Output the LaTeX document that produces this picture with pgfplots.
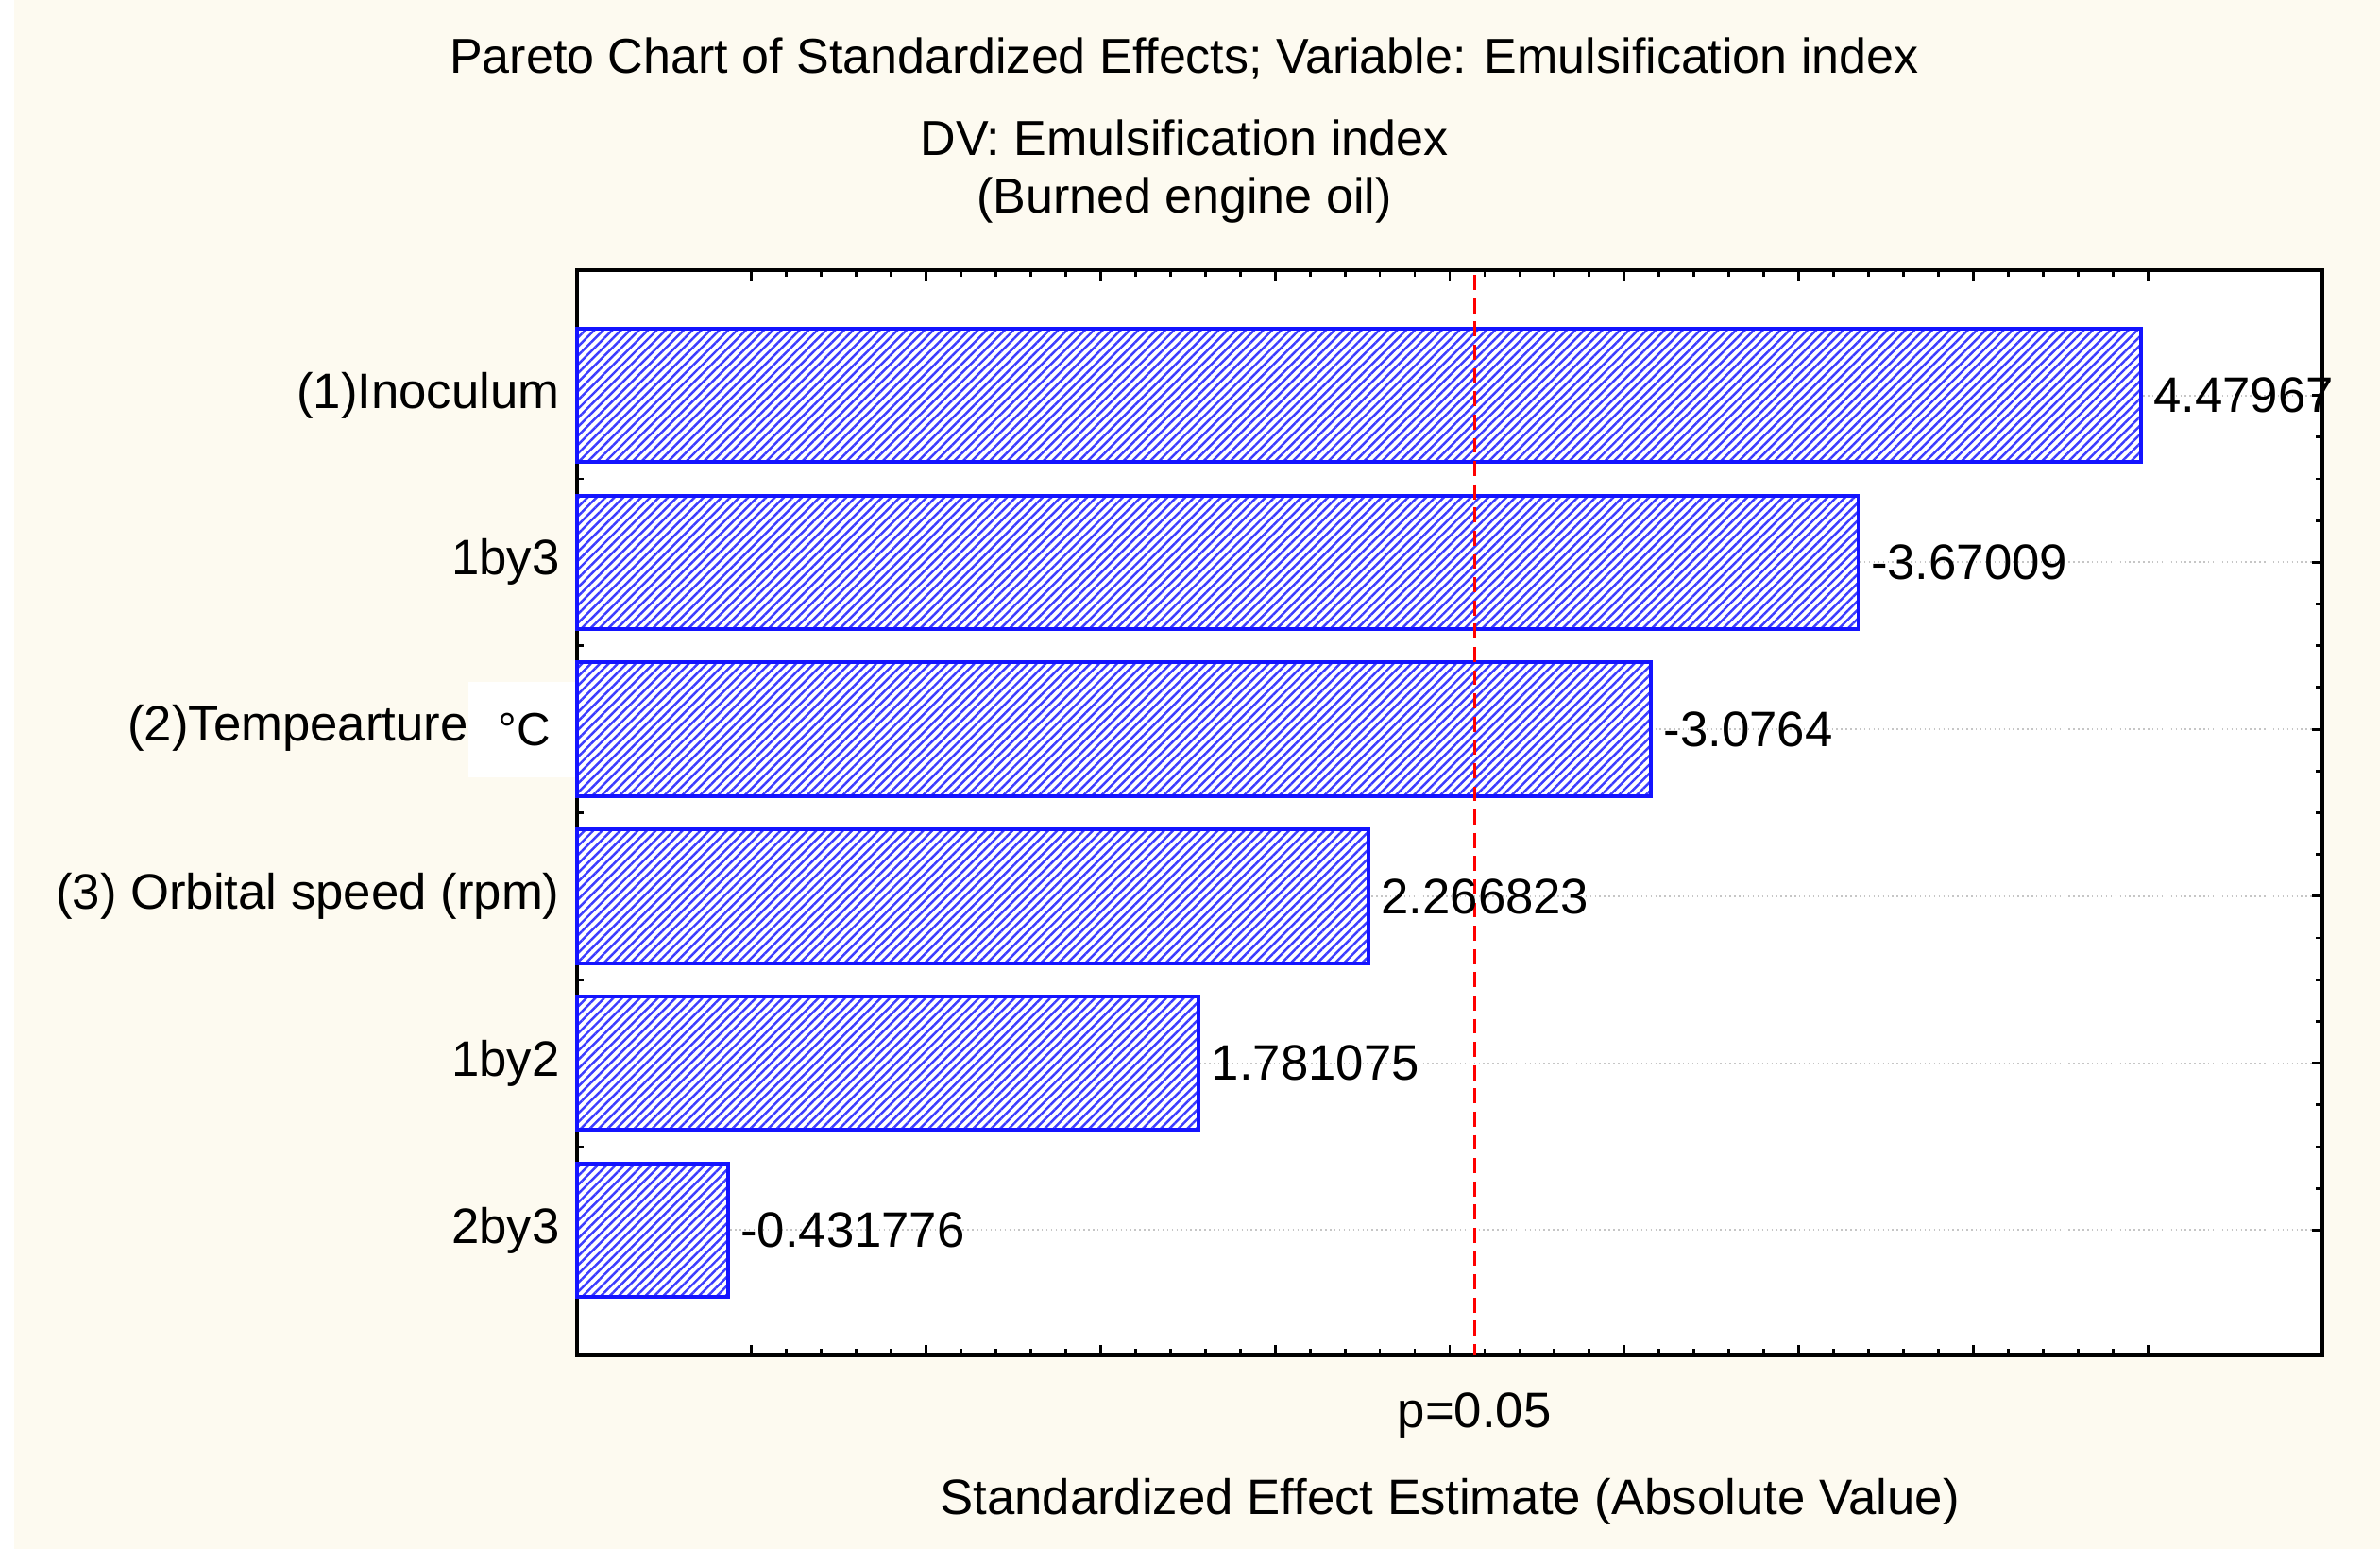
\documentclass[border=0pt]{standalone}
\usepackage{fontspec}
\setmainfont{Liberation Sans}
\usepackage{pgfplots}
\pgfplotsset{compat=1.18}
\usepackage{pgfplotstable}
\usetikzlibrary{patterns.meta,calc,backgrounds}
\definecolor{bg}{RGB}{253,250,240}
\definecolor{barblue}{RGB}{20,20,255}
\definecolor{hatch}{RGB}{60,60,255}
\pgfplotstableread{
x y label
4.47967 0 4.47967
3.67009 1 -3.67009
3.0764 2 -3.0764
2.266823 3 2.266823
1.781075 4 1.781075
0.431776 5 -0.431776
}\effects
\newcommand{\lbl}{\fontsize{15}{17}\selectfont}
\begin{document}
\begin{tikzpicture}
\begin{axis}[
  name=ax,
  scale only axis,
  width=18.48cm, height=11.49cm,
  xmin=0, xmax=5,
  ymin=-0.75, ymax=5.75,
  y dir=reverse,
  axis background/.style={fill=white},
  axis line style={line width=1pt, black},
  xtick={0.5,1,...,4.5},
  xticklabels={},
  minor x tick num=4,
  ytick={0,1,2,3,4,5},
  yticklabels={{(1)Inoculum},{1by3},{(2)Tempearture\setlength{\fboxsep}{0pt}\colorbox{white}{\parbox[c][1.01cm][c]{1.3cm}{\hspace*{0.32cm}\fontsize{14}{16}\selectfont°C}}\hspace*{-0.33cm}},{(3) Orbital speed (rpm)},{1by2},{2by3}},
  minor y tick num=3,
  major tick length=0.11cm,
  minor tick length=0.07cm,
  tick style={black, line width=0.8pt},
  ymajorgrids,
  grid style={densely dotted, gray!45, line width=0.6pt},
  yticklabel style={font=\lbl, xshift=-0.06cm},
  extra x ticks={2.5706},
  extra x tick labels={p=0.05},
  extra x tick style={major tick length=0pt, grid=none, tick label style={font=\lbl, yshift=-0.27cm}},
  xlabel={Standardized Effect Estimate (Absolute Value)},
  every axis x label/.style={at={(axis description cs:0.5,0)}, anchor=center, yshift=-1.55cm, font=\fontsize{15}{18}\selectfont},
  clip=false,
]
\addplot[xbar, bar width=0.8, bar shift=0pt, draw=barblue, line width=1.1pt,
  preaction={fill=white},
  pattern={Lines[angle=45,distance=1.9pt,line width=0.7pt]}, pattern color=hatch,
  nodes near coords, point meta=explicit symbolic,
  nodes near coords style={font=\lbl, anchor=west, text=black}]
  table[x=x,y=y,meta=label]{\effects};
\addplot[red, line width=0.9pt, dash pattern=on 4.5pt off 2.5pt] coordinates {(2.5706,-0.72) (2.5706,5.75)};
\end{axis}
\node[font=\fontsize{14.8}{17}\selectfont] at ($(ax.north west)+(6.43cm,2.24cm)$) {Pareto Chart of Standardized Effects; Variable: Emulsification index};
\node[font=\fontsize{14.8}{17}\selectfont] at ($(ax.north west)+(6.43cm,1.40cm)$) {DV: Emulsification index};
\node[font=\fontsize{14.8}{17}\selectfont] at ($(ax.north west)+(6.43cm,0.74cm)$) {(Burned engine oil)};
\begin{pgfonlayer}{background}
\fill[bg] ($(ax.south west)+(-6.11cm,-2.05cm)$) rectangle ($(ax.north east)+(0.61cm,2.86cm)$);
\fill[white] ($(ax.south west)+(-6.11cm,-2.05cm)$) rectangle ($(ax.north west)+(-5.96cm,2.86cm)$);
\end{pgfonlayer}
\end{tikzpicture}
\end{document}
